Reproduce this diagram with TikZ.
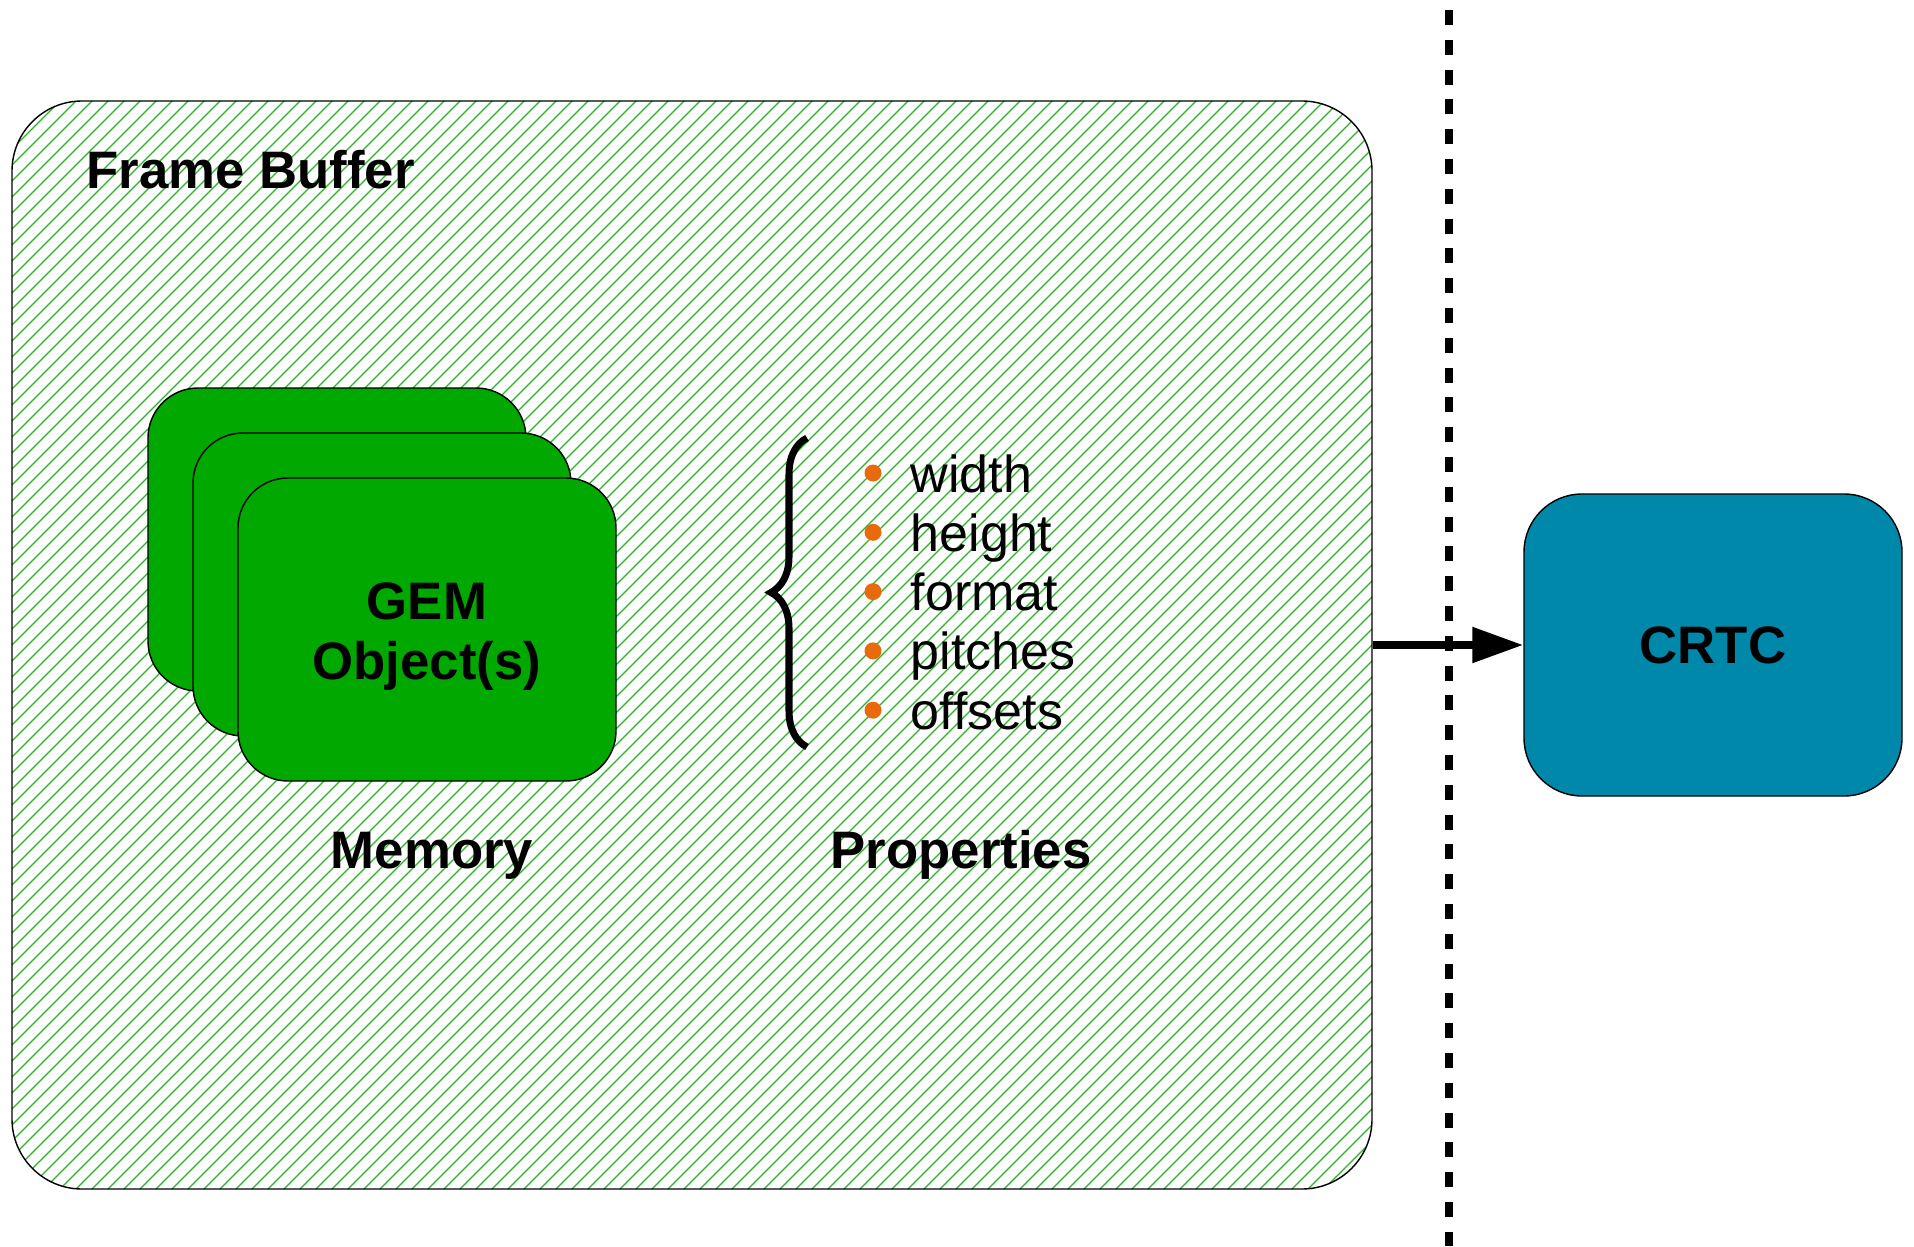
\documentclass[tikz,border=0pt]{standalone}
\usepackage{fontspec}
\setmainfont{Liberation Sans}
\usepackage{xcolor}
\usepackage{tikz}
\usetikzlibrary{arrows.meta,positioning,decorations.pathreplacing}

\definecolor{gemgreen}{RGB}{0,168,0}
\definecolor{crtcblue}{RGB}{0,136,170}
\definecolor{hatchgreen}{RGB}{40,180,40}
\definecolor{dotorange}{RGB}{232,106,12}

\tikzset{
  hatchline/.style={hatchgreen,line width=0.35pt},
  fbbox/.style={draw,line width=0.4pt,rounded corners=0.7cm,
    minimum width=13.60cm,minimum height=10.88cm,inner sep=0pt,
    path picture={
      \foreach \k in {-70,...,86}
        \draw[hatchline] ([xshift=\k*0.16cm]path picture bounding box.south west) -- ++(12cm,12cm);
    }},
  gembox/.style={draw,line width=0.4pt,fill=gemgreen,rounded corners=0.5cm,
    minimum width=3.78cm,minimum height=3.03cm,inner sep=0pt},
  crtcbox/.style={draw,line width=0.4pt,fill=crtcblue,rounded corners=0.58cm,
    minimum width=3.78cm,minimum height=3.02cm,inner sep=0pt},
  title/.style={font=\fontsize{15}{17}\selectfont\bfseries},
  item/.style={font=\fontsize{14.8}{17}\selectfont,inner sep=0pt},
  dot/.style={circle,fill=dotorange,inner sep=0pt,minimum size=0.17cm},
  sepline/.style={line width=2.2pt,dash pattern=on 0.15cm off 0.148cm},
  flow/.style={line width=2.3pt,-{Triangle[length=14.5pt,width=9.7pt]}}
}

\begin{document}
\begin{tikzpicture}
  \useasboundingbox (0,0) rectangle (19.14,12.46);

  % Frame buffer
  \node[fbbox] (fb) at (6.92,6.01) {};
  \node[title,inner sep=0pt,anchor=base west] (fbtitle) at (0.86,10.57) {Frame Buffer};

  % Memory: stack of GEM objects
  \foreach \n/\d in {back/0,mid/0.45}{
    \node[gembox] (gem\n) at (3.37+\d,7.065-\d) {};
  }
  \node[gembox] (gem) at (4.27,6.165) {};
  \node[title,align=center] (gemtext) at ([yshift=-0.07cm]gem.center) {GEM\\Object(s)};
  \node[title,anchor=base] (memlabel) at (4.32,3.78) {Memory};

  % Properties
  \draw[line width=2pt,decorate,decoration={brace,amplitude=0.36cm}]
    (8.07,4.99) -- (8.07,8.08);
  \foreach \t [count=\i] in {width,height,format,pitches,offsets}{
    \node[dot] (dot\i) at (8.73,{7.73-0.593*(\i-1)}) {};
    \node[item,anchor=base west] (prop\i) at (9.10,{7.54-0.593*(\i-1)}) {\t};
  }
  \node[title,anchor=base] (proplabel) at (9.61,3.78) {Properties};

  % separation and CRTC
  \draw[sepline] (14.49,12.36) -- (14.49,0);
  \node[crtcbox,title] (crtc) at (17.13,6.01) {CRTC};
  \draw[flow] (fb.east) -- (crtc.west);
\end{tikzpicture}
\end{document}
